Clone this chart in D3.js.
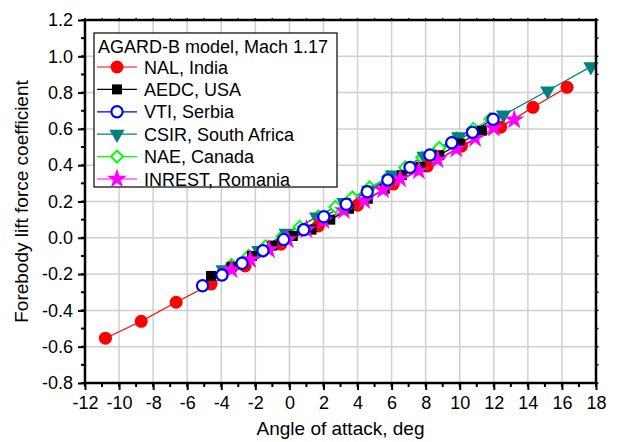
<!DOCTYPE html>
<html><head><meta charset="utf-8">
<script src="https://cdn.jsdelivr.net/npm/d3@7"></script>
<style>
body{margin:0;background:#fff;}
text{font-family:"Liberation Sans",Arial,sans-serif;}
</style></head>
<body><svg id="c" width="617" height="442"></svg>
<script>
const xTicks = [-12,-10,-8,-6,-4,-2,0,2,4,6,8,10,12,14,16,18];
const yTicks = [-0.8,-0.6,-0.4,-0.2,0.0,0.2,0.4,0.6,0.8,1.0,1.2];
const legendTitle = "AGARD-B model, Mach 1.17";

const nalX = [-10.8,-8.7,-6.65,-4.6,-2.6,-0.5,1.7,4.0,6.1,8.1,10.1,12.4,14.3,16.3];
const nalY = [-0.553,-0.46,-0.355,-0.255,-0.155,-0.035,0.065,0.18,0.296,0.395,0.505,0.609,0.719,0.829];
const aedcX = [-4.6,-3.4,-2.2,-1.0,0.2,1.3,2.4,3.5,4.6,5.6,6.6,7.7,8.8,10.0,11.3];
const aedcY = [-0.21,-0.16,-0.10,-0.043,0.01,0.045,0.10,0.16,0.215,0.27,0.345,0.39,0.455,0.52,0.59];
const vtiX = [-5.1,-3.96,-2.78,-1.55,-0.34,0.84,2.02,3.34,4.57,5.78,7.08,8.25,9.53,10.75,11.96];
const vtiY = [-0.264,-0.205,-0.140,-0.071,-0.010,0.044,0.116,0.185,0.254,0.318,0.388,0.456,0.524,0.581,0.653];
const csirX = [-3.9,-1.8,-0.2,1.6,3.2,4.65,6.05,7.9,9.94,12.57,15.16,17.7];
const csirY = [-0.175,-0.07,0.026,0.115,0.195,0.263,0.346,0.45,0.557,0.677,0.81,0.943];
const naeX = [-3.4,-2.4,-1.4,-0.4,0.6,1.7,2.7,3.7,4.7,5.8,6.8,7.8,8.8,9.8,10.8,11.8];
const naeY = [-0.15,-0.1,-0.047,0.008,0.06,0.118,0.17,0.222,0.277,0.335,0.388,0.442,0.495,0.548,0.6,0.655];
const inrestX = [-3.4,-2.3,-1.2,-0.1,1.0,2.0,3.2,4.4,5.5,6.5,7.6,8.7,9.8,10.9,12.0,13.2];
const inrestY = [-0.175,-0.12,-0.065,-0.01,0.045,0.095,0.15,0.205,0.265,0.325,0.37,0.43,0.49,0.548,0.605,0.65];

const seriesNames = ["NAL, India","AEDC, USA","VTI, Serbia","CSIR, South Africa","NAE, Canada","INREST, Romania"];
const seriesColors = ["#ff0000","#000000","#0000ff","#008080","#00ff00","#ff00ff"];
const seriesMarkers = ["circleFill","square","circleOpen","triDown","diamondOpen","star"];
const seriesXs = [nalX,aedcX,vtiX,csirX,naeX,inrestX];
const seriesYs = [nalY,aedcY,vtiY,csirY,naeY,inrestY];
const drawOrder = [4,3,0,1,5,2];

const L=85,R=596,T=20,B=383;
const FONT = "'Liberation Sans',Arial,sans-serif";
const svg = d3.select("#c");
const x = d3.scaleLinear().domain([-12,18]).range([L,R]);
const y = d3.scaleLinear().domain([-0.8,1.2]).range([B,T]);

// grid
const g = svg.append("g");
g.selectAll(".gx").data(xTicks.slice(1,-1)).enter().append("line")
 .attr("x1",d=>x(d)).attr("x2",d=>x(d)).attr("y1",T).attr("y2",B)
 .attr("stroke","#d0d0d0").attr("stroke-width",1.5);
g.selectAll(".gy").data(yTicks.slice(1,-1)).enter().append("line")
 .attr("y1",d=>y(d)).attr("y2",d=>y(d)).attr("x1",L).attr("x2",R)
 .attr("stroke","#d0d0d0").attr("stroke-width",1.5);

function marker(sel, type, color){
  sel.each(function(){
    const s = d3.select(this);
    if(type==="circleFill"){ s.append("circle").attr("r",6.5).attr("fill",color); }
    else if(type==="circleOpen"){ s.append("circle").attr("r",5.6).attr("fill","#fff").attr("stroke",color).attr("stroke-width",2.2); }
    else if(type==="square"){ s.append("path").attr("d",d3.symbol(d3.symbolSquare,100)()).attr("fill",color); }
    else if(type==="triDown"){ s.append("path").attr("d",d3.symbol(d3.symbolTriangle,100)()).attr("transform","rotate(180)").attr("fill",color); }
    else if(type==="diamondOpen"){ s.append("path").attr("d",d3.symbol(d3.symbolSquare,72)()).attr("transform","rotate(45)").attr("fill","#fff").attr("stroke",color).attr("stroke-width",2); }
    else if(type==="star"){ s.append("path").attr("d",d3.symbol(d3.symbolStar,125)()).attr("fill",color); }
  });
}

const line = d3.line().x(d=>x(d[0])).y(d=>y(d[1]));
const plot = svg.append("g");
drawOrder.forEach(i=>{
  const pts = seriesXs[i].map((v,k)=>[v,seriesYs[i][k]]);
  plot.append("path").attr("d",line(pts)).attr("fill","none").attr("stroke",seriesColors[i]).attr("stroke-width",1.2);
});
drawOrder.forEach(i=>{
  const pts = seriesXs[i].map((v,k)=>[v,seriesYs[i][k]]);
  const gm = plot.selectAll(null).data(pts).enter().append("g")
    .attr("transform",d=>`translate(${x(d[0])},${y(d[1])})`);
  marker(gm, seriesMarkers[i], seriesColors[i]);
});

// axes
const fmt = d=> d3.format(".1f")(d).replace("−","-");
const xMinor = d3.range(-12,18.01,1);
const yMinor = d3.range(-8,12.01,1).map(v=>v/10);
const ax = svg.append("g").attr("transform",`translate(0,${B})`)
  .call(d3.axisBottom(x).tickValues(xTicks).tickSize(7).tickPadding(6).tickFormat(d=>String(d).replace("−","-")));
const ay = svg.append("g").attr("transform",`translate(${L},0)`)
  .call(d3.axisLeft(y).tickValues(yTicks).tickSize(7).tickPadding(5).tickFormat(fmt));
[ax,ay].forEach(a=>{
  a.select(".domain").remove();
  a.selectAll(".tick line").attr("stroke","#000").attr("stroke-width",2);
  a.selectAll(".tick text").attr("fill","#000").style("font-size","18px").style("font-family",FONT);
});
// minor ticks
svg.append("g").selectAll("line").data(xMinor).enter().append("line")
  .attr("x1",d=>x(d)).attr("x2",d=>x(d)).attr("y1",B).attr("y2",B+4).attr("stroke","#000").attr("stroke-width",2);
svg.append("g").selectAll("line").data(yMinor).enter().append("line")
  .attr("y1",d=>y(d)).attr("y2",d=>y(d)).attr("x1",L).attr("x2",L-4).attr("stroke","#000").attr("stroke-width",2);
// top/right small ticks
svg.append("g").selectAll("line").data(xMinor).enter().append("line")
  .attr("x1",d=>x(d)).attr("x2",d=>x(d)).attr("y1",T).attr("y2",T-2).attr("stroke","#000").attr("stroke-width",1.5);
svg.append("g").selectAll("line").data(yMinor).enter().append("line")
  .attr("y1",d=>y(d)).attr("y2",d=>y(d)).attr("x1",R).attr("x2",R+2.5).attr("stroke","#000").attr("stroke-width",1.5);
// frame
svg.append("rect").attr("x",L).attr("y",T).attr("width",R-L).attr("height",B-T)
  .attr("fill","none").attr("stroke","#000").attr("stroke-width",2.5);

// axis titles
svg.append("text").attr("x",(L+R)/2).attr("y",435).attr("text-anchor","middle")
  .style("font-size","19px").text("Angle of attack, deg");
svg.append("text").attr("transform",`translate(28,${(T+B)/2}) rotate(-90)`).attr("text-anchor","middle")
  .style("font-size","19px").text("Forebody lift force coefficient");

// legend
const lg = svg.append("g");
lg.append("rect").attr("x",94).attr("y",33).attr("width",243).attr("height",154)
  .attr("fill","#fff").attr("stroke","#000").attr("stroke-width",1.2);
lg.append("text").attr("x",98).attr("y",53).style("font-size","18px").text(legendTitle);
seriesNames.forEach((nm,i)=>{
  const cy = 67 + i*22.4;
  lg.append("line").attr("x1",97).attr("x2",137).attr("y1",cy).attr("y2",cy)
    .attr("stroke",seriesColors[i]).attr("stroke-width",1.2);
  const m = lg.append("g").attr("transform",`translate(117,${cy})`);
  marker(m, seriesMarkers[i], seriesColors[i]);
  lg.append("text").attr("x",144).attr("y",cy+6.5).style("font-size","18px").text(nm);
});
</script></body></html>
